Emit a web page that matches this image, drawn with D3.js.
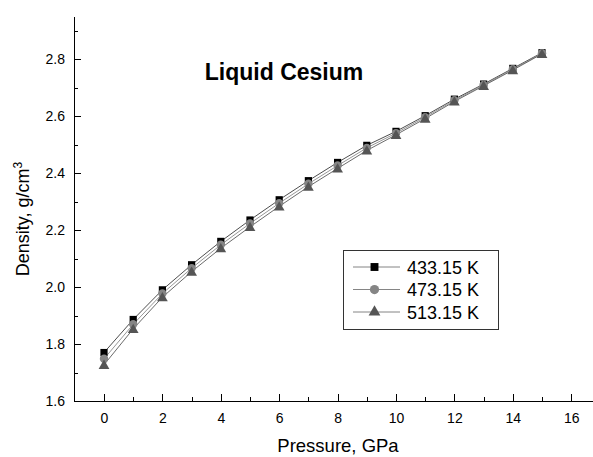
<!DOCTYPE html>
<meta charset="utf-8">
<style>
body {
    margin: 0;
    background: #fff;
}

svg text {
    font-family: "Liberation Sans", Arial, Helvetica, sans-serif;
    fill: #000;
}

.axis path,
.axis line {
    stroke: #000;
    stroke-width: 1px;
    shape-rendering: crispEdges;
}

.axis text {
    font-size: 14px;
}
</style>
<body>
    <script src="https://cdn.jsdelivr.net/npm/d3@7/dist/d3.min.js"></script>
    <script>
        const width = 593;
        const height = 457;

        // pressure, GPa
        const pressure = [0, 1, 2, 3, 4, 5, 6, 7, 8, 9, 10, 11, 12, 13, 14, 15];

        // density, g/cm3
        const density433 = [1.770, 1.886, 1.990, 2.078, 2.160, 2.235, 2.306, 2.373, 2.437, 2.497, 2.546, 2.601, 2.659, 2.712, 2.767, 2.822];
        const density473 = [1.748, 1.869, 1.977, 2.066, 2.148, 2.223, 2.294, 2.362, 2.426, 2.488, 2.540, 2.596, 2.655, 2.709, 2.764, 2.820];
        const density513 = [1.727, 1.853, 1.964, 2.054, 2.136, 2.211, 2.283, 2.352, 2.416, 2.479, 2.534, 2.591, 2.651, 2.706, 2.761, 2.818];

        const seriesNames = ["433.15 K", "473.15 K", "513.15 K"];

        const xMajorTicks = [0, 2, 4, 6, 8, 10, 12, 14, 16];
        const xMinorTicks = [1, 3, 5, 7, 9, 11, 13, 15];
        const yMajorTicks = [1.6, 1.8, 2.0, 2.2, 2.4, 2.6, 2.8];
        const yMinorTicks = [1.7, 1.9, 2.1, 2.3, 2.5, 2.7, 2.9];

        const series = [
            {name: seriesNames[0], values: density433, symbol: d3.symbolSquare, size: 52, fill: "#000000", line: "#3a3a3a"},
            {name: seriesNames[1], values: density473, symbol: d3.symbolCircle, size: 56, fill: "#858585", line: "#8a8a8a"},
            {name: seriesNames[2], values: density513, symbol: d3.symbolTriangle, size: 50, fill: "#555555", line: "#5a5a5a"}
        ];

        const x = d3.scaleLinear()
            .domain([-1, 17])
            .range([74.8, 600.4]);

        const y = d3.scaleLinear()
            .domain([1.6, 2.95])
            .range([401, 16.25]);

        const svg = d3.select("body").append("svg")
            .attr("width", width)
            .attr("height", height);

        // axes, ticks pointing inward
        svg.append("g")
            .attr("class", "axis")
            .attr("transform", "translate(0,401)")
            .call(d3.axisBottom(x).tickValues(xMinorTicks).tickSize(-4).tickFormat(""))
            .call(function(g) { g.select(".domain").remove(); });

        svg.append("g")
            .attr("class", "axis")
            .attr("transform", "translate(0,401)")
            .call(d3.axisBottom(x)
                .tickValues(xMajorTicks)
                .tickSize(-7)
                .tickSizeOuter(0)
                .tickPadding(12)
                .tickFormat(d3.format("d")));

        svg.append("g")
            .attr("class", "axis")
            .attr("transform", "translate(74,0)")
            .call(d3.axisLeft(y).tickValues(yMinorTicks).tickSize(-4).tickFormat(""))
            .call(function(g) { g.select(".domain").remove(); });

        svg.append("g")
            .attr("class", "axis")
            .attr("transform", "translate(74,0)")
            .call(d3.axisLeft(y)
                .tickValues(yMajorTicks)
                .tickSize(-7)
                .tickSizeOuter(0)
                .tickPadding(9)
                .tickFormat(d3.format(".1f")));

        // axis titles
        svg.append("text")
            .attr("x", 338)
            .attr("y", 452)
            .attr("text-anchor", "middle")
            .style("font-size", "18.5px")
            .text("Pressure, GPa");

        const yTitle = svg.append("text")
            .attr("transform", "translate(29,219) rotate(-90)")
            .attr("text-anchor", "middle")
            .style("font-size", "18px");
        yTitle.append("tspan").text("Density, g/cm");
        yTitle.append("tspan")
            .attr("dy", "-0.6em")
            .style("font-size", "12px")
            .text("3");

        svg.append("text")
            .attr("x", 284)
            .attr("y", 80)
            .attr("text-anchor", "middle")
            .style("font-size", "23px")
            .style("font-weight", "bold")
            .text("Liquid Cesium");

        // series lines then markers
        const line = d3.line()
            .x(function(d, i) { return x(pressure[i]); })
            .y(function(d) { return y(d); });

        svg.selectAll(".series-line")
            .data(series)
            .enter()
            .append("path")
            .attr("class", "series-line")
            .attr("d", function(d) { return line(d.values); })
            .attr("fill", "none")
            .attr("stroke", function(d) { return d.line; })
            .attr("stroke-width", 0.9);

        // squares first, triangles end up on top
        series.forEach(function(s) {
            svg.append("g")
                .selectAll("path")
                .data(s.values)
                .enter()
                .append("path")
                .attr("transform", function(d, i) {
                    const dy = s.symbol === d3.symbolTriangle ? 1 : 0;
                    return "translate(" + x(pressure[i]) + "," + (y(d) + dy) + ")";
                })
                .attr("d", d3.symbol().type(s.symbol).size(s.size))
                .attr("fill", s.fill);
        });

        // legend
        const legend = svg.append("g")
            .attr("transform", "translate(343,250)");

        legend.append("rect")
            .attr("x", 0.5)
            .attr("y", 0.5)
            .attr("width", 155)
            .attr("height", 79)
            .attr("fill", "#fff")
            .attr("stroke", "#333")
            .attr("stroke-width", 1);

        const rows = legend.selectAll(".row")
            .data(series)
            .enter()
            .append("g")
            .attr("class", "row")
            .attr("transform", function(d, i) { return "translate(0," + (17 + i * 22.5) + ")"; });

        rows.append("line")
            .attr("x1", 10)
            .attr("x2", 57)
            .attr("stroke", "#777")
            .attr("stroke-width", 0.9);

        rows.append("path")
            .attr("transform", "translate(31.5,0)")
            .attr("d", function(d) { return d3.symbol().type(d.symbol).size(d.size * 1.2)(); })
            .attr("fill", function(d) { return d.fill; });

        rows.append("text")
            .attr("x", 64)
            .attr("y", 6.5)
            .style("font-size", "18px")
            .text(function(d) { return d.name; });
    </script>
</body>
